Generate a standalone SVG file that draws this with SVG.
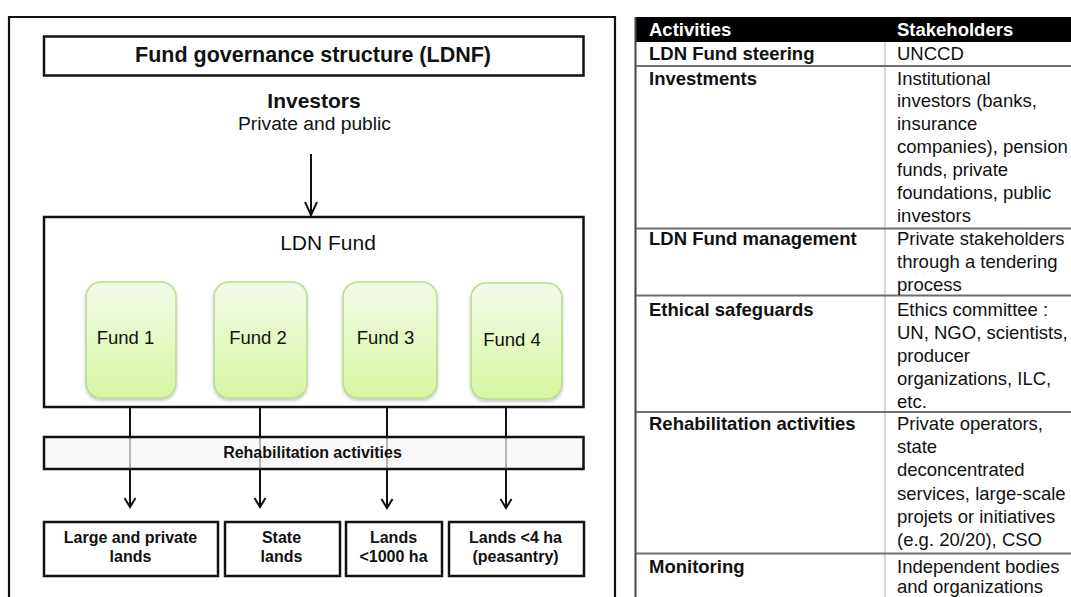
<svg xmlns="http://www.w3.org/2000/svg" width="1071" height="597" viewBox="0 0 1071 597">
  <style>
    .frame { fill: none; stroke: #111; stroke-width: 2.2; }
    .box { fill: #fff; stroke: #111; stroke-width: 2.5; }
    .fund { fill: url(#fundFill); stroke: #b9dc8f; stroke-width: 1.5; filter: url(#soft); }
    .t { font-family: "Liberation Sans", Arial, sans-serif; fill: #111; }
    .b { font-weight: bold; }
    .c { text-anchor: middle; }
    .conn { fill: none; stroke: #111; stroke-width: 2; }
    .rule { stroke: #6e6e6e; stroke-width: 2; }
    .cell { font-family: "Liberation Sans", Arial, sans-serif; font-size: 18.5px; fill: #111; }
  </style>
  <defs>
    <linearGradient id="fundFill" x1="0" y1="0" x2="0" y2="1">
      <stop offset="0" stop-color="#f3fae8"/>
      <stop offset="1" stop-color="#d8f6a2"/>
    </linearGradient>
    <filter id="soft" x="-20%" y="-20%" width="140%" height="140%">
      <feDropShadow dx="0" dy="2" stdDeviation="1.5" flood-color="#000" flood-opacity="0.22"/>
    </filter>
    <marker id="arrowBig" markerUnits="userSpaceOnUse" markerWidth="16" markerHeight="14" refX="14" refY="6.5" orient="auto" overflow="visible">
      <path d="M1,0.5 L14,6.5 L1,12.5" fill="none" stroke="#111" stroke-width="2"/>
    </marker>
    <marker id="arrowSmall" markerUnits="userSpaceOnUse" markerWidth="12" markerHeight="12" refX="10" refY="5.5" orient="auto" overflow="visible">
      <path d="M1,0 L10,5.5 L1,11" fill="none" stroke="#111" stroke-width="2"/>
    </marker>
  </defs>

  <rect width="1071" height="597" fill="#fff"/>

  <!-- outer frame of the structure chart (runs off the bottom) -->
  <path class="frame" d="M9,600 L9,17 L615,17 L615,600"/>

  <g id="governance">
    <rect class="box" x="44" y="36.5" width="539.5" height="39"/>
    <text class="t b c" x="313" y="62" font-size="21.5">Fund governance structure (LDNF)</text>
  </g>

  <g id="investors">
    <text class="t b c" x="314" y="108" font-size="21">Investors</text>
    <text class="t c" x="314.5" y="129.5" font-size="18" textLength="153" lengthAdjust="spacingAndGlyphs">Private and public</text>
  </g>

  <!-- connectors -->
  <g id="connectors">
    <line class="conn" x1="311" y1="154" x2="311" y2="215" marker-end="url(#arrowBig)"/>
    <line class="conn" x1="130" y1="407" x2="130" y2="507" marker-end="url(#arrowSmall)"/>
    <line class="conn" x1="260" y1="407" x2="260" y2="507" marker-end="url(#arrowSmall)"/>
    <line class="conn" x1="387" y1="407" x2="387" y2="508" marker-end="url(#arrowSmall)"/>
    <line class="conn" x1="506" y1="407" x2="506" y2="508" marker-end="url(#arrowSmall)"/>
  </g>

  <g id="ldn-fund">
    <rect class="box" x="44" y="217" width="539.5" height="190"/>
    <text class="t c" x="328" y="250" font-size="21">LDN Fund</text>
  </g>

  <g id="fund-1">
    <rect class="fund" x="86" y="282" width="90" height="116" rx="15"/>
    <text class="t c" x="125.5" y="344" font-size="18.5">Fund 1</text>
  </g>
  <g id="fund-2">
    <rect class="fund" x="214" y="282" width="93" height="116" rx="15"/>
    <text class="t c" x="258" y="344" font-size="18.5">Fund 2</text>
  </g>
  <g id="fund-3">
    <rect class="fund" x="343" y="282" width="94" height="116" rx="15"/>
    <text class="t c" x="385.5" y="344" font-size="18.5">Fund 3</text>
  </g>
  <g id="fund-4">
    <rect class="fund" x="471" y="283" width="91" height="116" rx="15"/>
    <text class="t c" x="512" y="346" font-size="18.5">Fund 4</text>
  </g>

  <g id="rehabilitation">
    <rect x="44" y="437" width="539.5" height="32" fill="#f6f6f6" fill-opacity="0.72" stroke="#111" stroke-width="2.5"/>
    <text class="t b c" x="312.5" y="457.5" font-size="16">Rehabilitation activities</text>
  </g>

  <g id="land-large">
    <rect class="box" x="44" y="522" width="174" height="54"/>
    <text class="t b c" x="130.5" y="543" font-size="16">Large and private</text>
    <text class="t b c" x="130.5" y="562" font-size="16">lands</text>
  </g>
  <g id="land-state">
    <rect class="box" x="225" y="522" width="115" height="54"/>
    <text class="t b c" x="281.5" y="543" font-size="16">State</text>
    <text class="t b c" x="281.5" y="562" font-size="16">lands</text>
  </g>
  <g id="land-medium">
    <rect class="box" x="346" y="522" width="96" height="54"/>
    <text class="t b c" x="393.5" y="543" font-size="16">Lands</text>
    <text class="t b c" x="393.5" y="562" font-size="16">&lt;1000 ha</text>
  </g>
  <g id="land-small">
    <rect class="box" x="449" y="522" width="135" height="54"/>
    <text class="t b c" x="515.5" y="543" font-size="16">Lands &lt;4 ha</text>
    <text class="t b c" x="515.5" y="562" font-size="16">(peasantry)</text>
  </g>

  <!-- activities / stakeholders table -->
  <g id="table">
    <rect x="636" y="17" width="440" height="25" fill="#000"/>
    <line x1="885" y1="42" x2="885" y2="600" stroke="#c8c8c8" stroke-width="1.5"/>
    <line x1="635.5" y1="17" x2="635.5" y2="600" stroke="#444" stroke-width="2"/>
    <line class="rule" x1="636" y1="66" x2="1071" y2="66"/>
    <line class="rule" x1="636" y1="228.5" x2="1071" y2="228.5"/>
    <line class="rule" x1="636" y1="295.5" x2="1071" y2="295.5"/>
    <line class="rule" x1="636" y1="412" x2="1071" y2="412"/>
    <line class="rule" x1="636" y1="553.5" x2="1071" y2="553.5"/>

    <text class="cell b" x="649" y="36" style="fill:#fff">Activities</text>
    <text class="cell b" x="897" y="36" style="fill:#fff">Stakeholders</text>

    <text class="cell b" x="649" y="60">LDN Fund steering</text>
    <text class="cell" x="897" y="60">UNCCD</text>

    <text class="cell b" x="649" y="84.5">Investments</text>
    <text class="cell" x="897" y="84.5">Institutional</text>
    <text class="cell" x="897" y="107.4">investors (banks,</text>
    <text class="cell" x="897" y="130.3">insurance</text>
    <text class="cell" x="897" y="153.2">companies), pension</text>
    <text class="cell" x="897" y="176.1">funds, private</text>
    <text class="cell" x="897" y="199">foundations, public</text>
    <text class="cell" x="897" y="221.9">investors</text>

    <text class="cell b" x="649" y="245">LDN Fund management</text>
    <text class="cell" x="897" y="245">Private stakeholders</text>
    <text class="cell" x="897" y="268">through a tendering</text>
    <text class="cell" x="897" y="291">process</text>

    <text class="cell b" x="649" y="316">Ethical safeguards</text>
    <text class="cell" x="897" y="316">Ethics committee :</text>
    <text class="cell" x="897" y="339">UN, NGO, scientists,</text>
    <text class="cell" x="897" y="362">producer</text>
    <text class="cell" x="897" y="385">organizations, ILC,</text>
    <text class="cell" x="897" y="408">etc.</text>

    <text class="cell b" x="649" y="430">Rehabilitation activities</text>
    <text class="cell" x="897" y="430">Private operators,</text>
    <text class="cell" x="897" y="453.2">state</text>
    <text class="cell" x="897" y="476.4">deconcentrated</text>
    <text class="cell" x="897" y="499.6">services, large-scale</text>
    <text class="cell" x="897" y="522.8">projets or initiatives</text>
    <text class="cell" x="897" y="546">(e.g. 20/20), CSO</text>

    <text class="cell b" x="649" y="573">Monitoring</text>
    <text class="cell" x="897" y="573">Independent bodies</text>
    <text class="cell" x="897" y="593">and organizations</text>
  </g>
</svg>
